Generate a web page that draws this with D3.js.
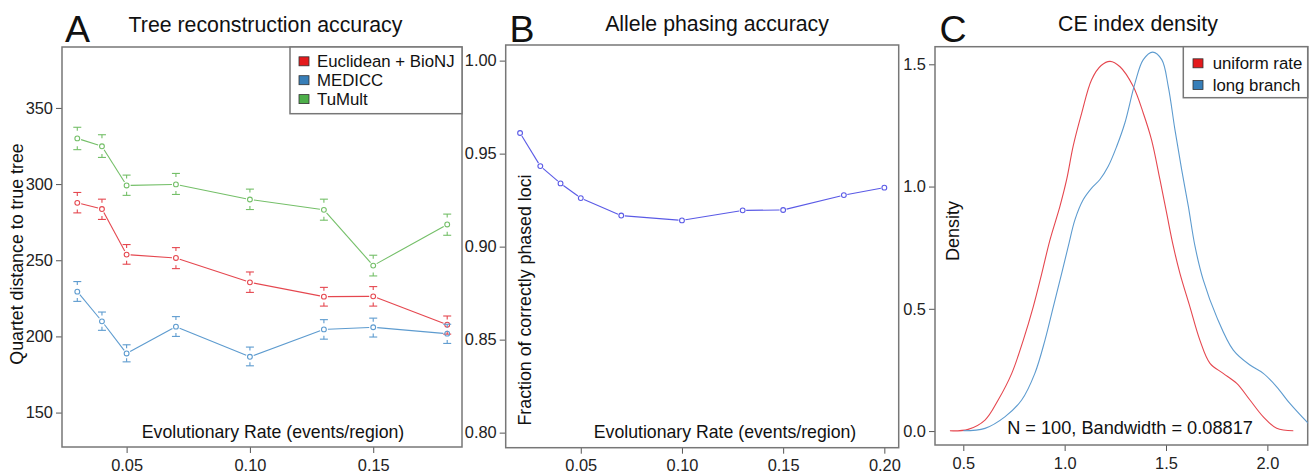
<!DOCTYPE html>
<html>
<head>
<meta charset="utf-8">
<script src="https://cdn.jsdelivr.net/npm/d3@7"></script>
<style>
  body { margin: 0; background: #fff; }
  svg { font-family: "Liberation Sans", Arial, sans-serif; }
  .tick text { font-size: 16.4px; fill: #222; }
  .tick line { stroke: #555; }
</style>
</head>
<body>
<script>
// Panel A: tree reconstruction accuracy (quartet distance)
var rates = [0.03, 0.04, 0.05, 0.07, 0.10, 0.13, 0.15, 0.18];
var euclidMean = [287.7, 283.6, 253.7, 251.5, 235.5, 226.1, 226.3, 207.7];
var euclidLo   = [281.1, 276.8, 247.4, 244.5, 228.9, 219.9, 219.9, 201.5];
var euclidHi   = [294.5, 290.1, 260.3, 258.3, 242.3, 232.2, 232.7, 213.4];
var mediccMean = [229.4, 209.9, 188.8, 206.4, 186.6, 204.6, 206.0, 201.8];
var mediccLo   = [223.0, 204.0, 183.3, 200.0, 180.7, 198.2, 199.6, 195.4];
var mediccHi   = [236.0, 216.0, 194.5, 213.0, 193.0, 211.0, 212.0, 208.0];
var tumultMean = [330.0, 324.8, 299.1, 299.8, 289.9, 283.1, 246.5, 273.5];
var tumultLo   = [322.6, 317.5, 292.6, 293.2, 283.3, 276.3, 239.7, 266.4];
var tumultHi   = [337.3, 332.4, 305.9, 307.0, 296.7, 290.1, 253.3, 280.3];
var methodNames = ["Euclidean + BioNJ", "MEDICC", "TuMult"];
var ticksA_y = [150, 200, 250, 300, 350];
var ticksA_x = [0.05, 0.10, 0.15];

// Panel B: allele phasing accuracy
var phaseRates = [0.02, 0.03, 0.04, 0.05, 0.07, 0.10, 0.13, 0.15, 0.18, 0.20];
var phaseAcc = [0.9611, 0.9433, 0.9340, 0.9261, 0.9167, 0.9141, 0.9195, 0.9197, 0.9277, 0.9317];
var ticksB_y = [0.80, 0.85, 0.90, 0.95, 1.00];
var ticksB_x = [0.05, 0.10, 0.15, 0.20];

// Panel C: CE index density curves
var uniformX = [0.434, 0.524, 0.607, 0.672, 0.739, 0.796, 0.845, 0.887, 0.927, 0.977, 1.010, 1.042, 1.084, 1.133, 1.180, 1.224, 1.273, 1.338, 1.388, 1.429, 1.470, 1.503, 1.536, 1.569, 1.618, 1.667, 1.717, 1.782, 1.849, 1.914, 1.980, 2.046, 2.128];
var uniformY = [0.001, 0.007, 0.045, 0.127, 0.236, 0.372, 0.508, 0.644, 0.780, 0.920, 1.029, 1.165, 1.300, 1.437, 1.495, 1.512, 1.490, 1.410, 1.300, 1.190, 1.029, 0.892, 0.756, 0.644, 0.508, 0.372, 0.277, 0.236, 0.195, 0.127, 0.058, 0.011, 0.001];
var longX = [0.500, 0.607, 0.705, 0.788, 0.853, 0.903, 0.944, 0.985, 1.018, 1.051, 1.092, 1.133, 1.174, 1.215, 1.257, 1.297, 1.347, 1.388, 1.434, 1.479, 1.511, 1.544, 1.577, 1.610, 1.643, 1.684, 1.750, 1.832, 1.914, 1.980, 2.046, 2.111, 2.202];
var longY = [0.001, 0.011, 0.058, 0.127, 0.236, 0.372, 0.508, 0.644, 0.756, 0.865, 0.947, 0.994, 1.029, 1.083, 1.165, 1.260, 1.423, 1.519, 1.550, 1.519, 1.410, 1.233, 1.070, 0.920, 0.756, 0.617, 0.467, 0.331, 0.270, 0.236, 0.181, 0.113, 0.031];
var densityNames = ["uniform rate", "long branch"];
var ticksC_y = [0.0, 0.5, 1.0, 1.5];
var ticksC_x = [0.5, 1.0, 1.5, 2.0];

var svg_width = 1309, svg_height = 476;
var svg = d3.select("body").append("svg")
  .attr("width", svg_width)
  .attr("height", svg_height);

var boxColor = "#777";
var lineRed = "#e5474f", lineBlue = "#5d9bcf", lineGreen = "#74bf68";
var fillRed = "#e41a1c", fillBlue = "#377eb8", fillGreen = "#4daf4a";

// helper: panel frame + axes
function drawFrame(box, x, y, xticks, yticks, xfmt, yfmt) {
  var g = svg.append("g");
  g.append("g")
    .attr("transform", "translate(" + box.left + ",0)")
    .call(d3.axisLeft(y).tickValues(yticks).tickSize(6).tickPadding(3).tickFormat(d3.format(yfmt)))
    .call(function(a) { a.select(".domain").remove(); });
  g.append("g")
    .attr("transform", "translate(0," + box.bottom + ")")
    .call(d3.axisBottom(x).tickValues(xticks).tickSize(6).tickPadding(6).tickFormat(d3.format(xfmt)))
    .call(function(a) { a.select(".domain").remove(); });
  g.append("rect")
    .attr("x", box.left).attr("y", box.top)
    .attr("width", box.right - box.left).attr("height", box.bottom - box.top)
    .attr("fill", "none").attr("stroke", boxColor).attr("stroke-width", 1.5);
  return g;
}

function panelText(x, y, txt, size, anchor) {
  return svg.append("text")
    .attr("x", x).attr("y", y)
    .attr("font-size", size)
    .attr("text-anchor", anchor || "middle")
    .attr("fill", "#111")
    .text(txt);
}

function rotText(x, y, txt, size) {
  return svg.append("text")
    .attr("transform", "translate(" + x + "," + y + ") rotate(-90)")
    .attr("font-size", size)
    .attr("text-anchor", "middle")
    .attr("fill", "#111")
    .text(txt);
}

// draw a "b"-type line: segments with gaps around the points
function gappedLine(g, xs, ys, x, y, color, gap) {
  for (var i = 0; i < xs.length - 1; i++) {
    var x1 = x(xs[i]), y1 = y(ys[i]), x2 = x(xs[i + 1]), y2 = y(ys[i + 1]);
    var len = Math.sqrt((x2 - x1) * (x2 - x1) + (y2 - y1) * (y2 - y1));
    if (len <= 2 * gap) continue;
    var ux = (x2 - x1) / len, uy = (y2 - y1) / len;
    g.append("line")
      .attr("x1", x1 + ux * gap).attr("y1", y1 + uy * gap)
      .attr("x2", x2 - ux * gap).attr("y2", y2 - uy * gap)
      .attr("stroke", color).attr("stroke-width", 1.1);
  }
  g.selectAll(null)
    .data(xs)
    .enter()
    .append("circle")
    .attr("cx", function(d) { return x(d); })
    .attr("cy", function(d, i) { return y(ys[i]); })
    .attr("r", 2.4)
    .attr("fill", "none")
    .attr("stroke", color)
    .attr("stroke-width", 1.1);
}

// ---------------- Panel A ----------------
var boxA = { left: 62, right: 462, top: 47, bottom: 447 };
var xA = d3.scaleLinear().domain([0.0238, 0.186]).range([boxA.left, boxA.right]);
var yA = d3.scaleLinear().domain([127.4, 390]).range([boxA.bottom, boxA.top]);
var gA = drawFrame(boxA, xA, yA, ticksA_x, ticksA_y, ".2f", "d");

var seriesA = [
  { mean: euclidMean, lo: euclidLo, hi: euclidHi, color: lineRed },
  { mean: mediccMean, lo: mediccLo, hi: mediccHi, color: lineBlue },
  { mean: tumultMean, lo: tumultLo, hi: tumultHi, color: lineGreen }
];
seriesA.forEach(function(s) {
  gappedLine(gA, rates, s.mean, xA, yA, s.color, 4);
  // error bar caps with short stems pointing to the point
  rates.forEach(function(r, i) {
    var cx = xA(r);
    [[s.hi[i], 1], [s.lo[i], -1]].forEach(function(p) {
      var yy = yA(p[0]);
      gA.append("line")
        .attr("x1", cx - 4).attr("x2", cx + 4).attr("y1", yy).attr("y2", yy)
        .attr("stroke", s.color).attr("stroke-width", 1.1);
      gA.append("line")
        .attr("x1", cx).attr("x2", cx).attr("y1", yy).attr("y2", yy + 3.5 * p[1])
        .attr("stroke", s.color).attr("stroke-width", 1.1);
    });
  });
});

// legend A
var legA = svg.append("g");
legA.append("rect")
  .attr("x", 290).attr("y", boxA.top).attr("width", boxA.right - 290).attr("height", 66.7)
  .attr("fill", "#fff").attr("stroke", boxColor).attr("stroke-width", 1.5);
[fillRed, fillBlue, fillGreen].forEach(function(c, i) {
  var cy = 61.3 + i * 18.9;
  legA.append("rect").attr("x", 299).attr("y", cy - 4.5).attr("width", 10).attr("height", 9)
    .attr("fill", c).attr("stroke", "#333").attr("stroke-width", 0.8);
  legA.append("text").attr("x", 317).attr("y", cy + 6).attr("font-size", 16.8)
    .attr("fill", "#111").text(methodNames[i]);
});

panelText(77.5, 41.5, "A", 37.5, "middle");
panelText(265.5, 32, "Tree reconstruction accuracy", 21.3);
rotText(22.5, 254, "Quartet distance to true tree", 17.8);
panelText(273, 437.5, "Evolutionary Rate (events/region)", 17.7);

// ---------------- Panel B ----------------
var boxB = { left: 505.7, right: 898.7, top: 45, bottom: 447.7 };
var xB = d3.scaleLinear().domain([0.0129, 0.2071]).range([boxB.left, boxB.right]);
var yB = d3.scaleLinear().domain([0.7919, 1.0084]).range([boxB.bottom, boxB.top]);
var gB = drawFrame(boxB, xB, yB, ticksB_x, ticksB_y, ".2f", ".2f");
gappedLine(gB, phaseRates, phaseAcc, xB, yB, "#5a5ae6", 3.5);

panelText(522, 41.5, "B", 37.5, "middle");
panelText(717, 30.5, "Allele phasing accuracy", 21.3);
rotText(531, 300, "Fraction of correctly phased loci", 17.8);
panelText(725, 438, "Evolutionary Rate (events/region)", 17.7);

// ---------------- Panel C ----------------
var boxC = { left: 935, right: 1307.7, top: 46.7, bottom: 445 };
var xC = d3.scaleLinear().domain([0.3604, 2.199]).range([boxC.left, boxC.right]);
var yC = d3.scaleLinear().domain([-0.057, 1.572]).range([boxC.bottom, boxC.top]);
svg.append("clipPath").attr("id", "clipC")
  .append("rect").attr("x", boxC.left).attr("y", boxC.top)
  .attr("width", boxC.right - boxC.left).attr("height", boxC.bottom - boxC.top);
var gC = drawFrame(boxC, xC, yC, ticksC_x, ticksC_y, ".1f", ".1f");

var densLine = d3.line()
  .x(function(d) { return xC(d[0]); })
  .y(function(d) { return yC(d[1]); })
  .curve(d3.curveCatmullRom.alpha(0.5));
gC.append("path")
  .attr("d", densLine(uniformX.map(function(v, i) { return [v, uniformY[i]]; })))
  .attr("fill", "none").attr("stroke", lineRed).attr("stroke-width", 1.1)
  .attr("clip-path", "url(#clipC)");
gC.append("path")
  .attr("d", densLine(longX.map(function(v, i) { return [v, longY[i]]; })))
  .attr("fill", "none").attr("stroke", lineBlue).attr("stroke-width", 1.1)
  .attr("clip-path", "url(#clipC)");

// legend C
var legC = svg.append("g");
legC.append("rect")
  .attr("x", 1183.3).attr("y", boxC.top).attr("width", boxC.right - 1183.3).attr("height", 51)
  .attr("fill", "#fff").attr("stroke", boxColor).attr("stroke-width", 1.5);
[fillRed, fillBlue].forEach(function(c, i) {
  var cy = 63.3 + i * 21.7;
  legC.append("rect").attr("x", 1193).attr("y", cy - 4.5).attr("width", 10).attr("height", 9)
    .attr("fill", c).attr("stroke", "#333").attr("stroke-width", 0.8);
  legC.append("text").attr("x", 1212.7).attr("y", cy + 6).attr("font-size", 16.8)
    .attr("fill", "#111").text(densityNames[i]);
});

panelText(953, 41.5, "C", 37.5, "middle");
panelText(1138, 31, "CE index density", 21.3);
rotText(958.5, 231, "Density", 18);
panelText(1130, 434, "N = 100, Bandwidth = 0.08817", 18.2);
</script>
</body>
</html>
